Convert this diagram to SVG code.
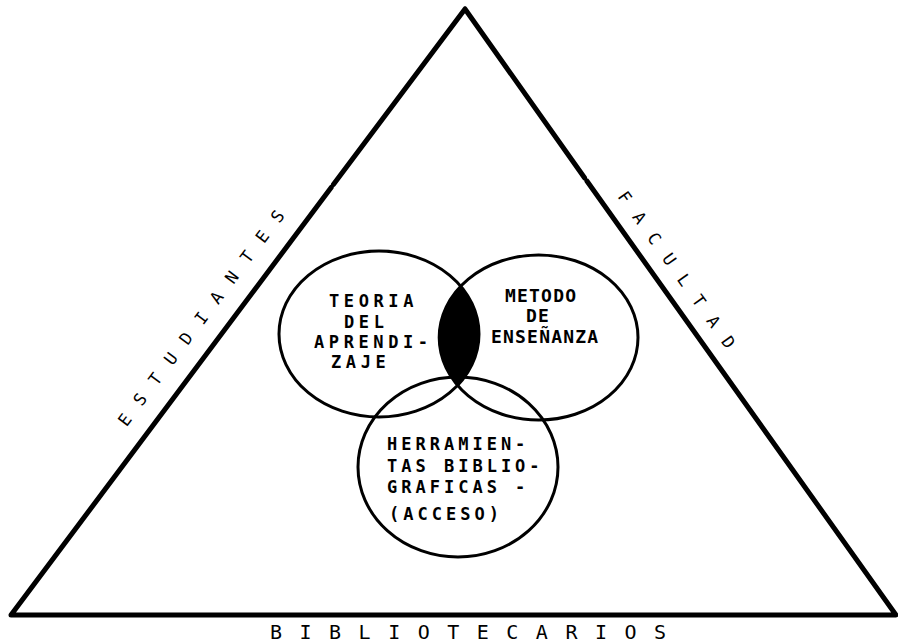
<svg xmlns="http://www.w3.org/2000/svg" width="898" height="643" viewBox="0 0 898 643">
<style>
.side{fill:none;stroke:#000;stroke-width:5;stroke-linecap:round;stroke-linejoin:round}
.ring{fill:none;stroke:#000;stroke-width:3}
.lbl{font-family:"DejaVu Sans Mono","Liberation Mono",monospace;fill:#000}
.side-lbl{font-size:17px;letter-spacing:15.2px}
.in-l{font-size:17px;letter-spacing:4.6px;font-weight:bold}
.in-r{font-size:18px;letter-spacing:1.2px;font-weight:bold}
.in-b{font-size:17px;letter-spacing:4px;font-weight:bold}
</style>
<defs>
<clipPath id="clipLeft"><ellipse cx="379" cy="334" rx="100" ry="83"/></clipPath>
</defs>
<rect width="898" height="643" fill="#fff"/>
<g id="triangle">
<path class="side" d="M465,9 L584.5,177.8 M586.9,181 L896,615 L11,615 L331.2,187.5 M333.4,184.6 L465,9"/>
</g>
<g id="lens">
<ellipse cx="538.6" cy="337.5" rx="99.4" ry="82.5" fill="#000" clip-path="url(#clipLeft)"/>
</g>
<g id="circle-teoria">
<ellipse class="ring" cx="379" cy="334" rx="100" ry="83"/>
<text class="lbl in-l" x="329" y="307">TEORIA</text>
<text class="lbl in-l" x="344" y="328">DEL</text>
<text class="lbl in-l" x="314" y="348">APRENDI-</text>
<text class="lbl in-l" x="331" y="368">ZAJE</text>
</g>
<g id="circle-metodo">
<ellipse class="ring" cx="538.6" cy="337.5" rx="99.4" ry="82.5"/>
<text class="lbl in-r" x="505" y="302">METODO</text>
<text class="lbl in-r" x="526" y="322">DE</text>
<text class="lbl in-r" x="491" y="343">ENSEÑANZA</text>
</g>
<g id="circle-herramientas">
<ellipse class="ring" cx="458" cy="467" rx="100" ry="90"/>
<text class="lbl in-b" x="387" y="450">HERRAMIEN-</text>
<text class="lbl in-b" x="387" y="472">TAS BIBLIO-</text>
<text class="lbl in-b" x="387" y="493">GRAFICAS -</text>
<text class="lbl in-b" x="389" y="520">(ACCESO)</text>
</g>
<g id="label-estudiantes">
<text class="lbl side-lbl" transform="translate(126.6,427.4) rotate(-53.13)">ESTUDIANTES</text>
</g>
<g id="label-facultad">
<text class="lbl side-lbl" transform="translate(617.1,196.4) rotate(54.53)">FACULTAD</text>
</g>
<g id="label-bibliotecarios">
<text class="lbl" x="270" y="639" style="font-size:20px;letter-spacing:17.5px">BIBLIOTECARIOS</text>
</g>
</svg>
